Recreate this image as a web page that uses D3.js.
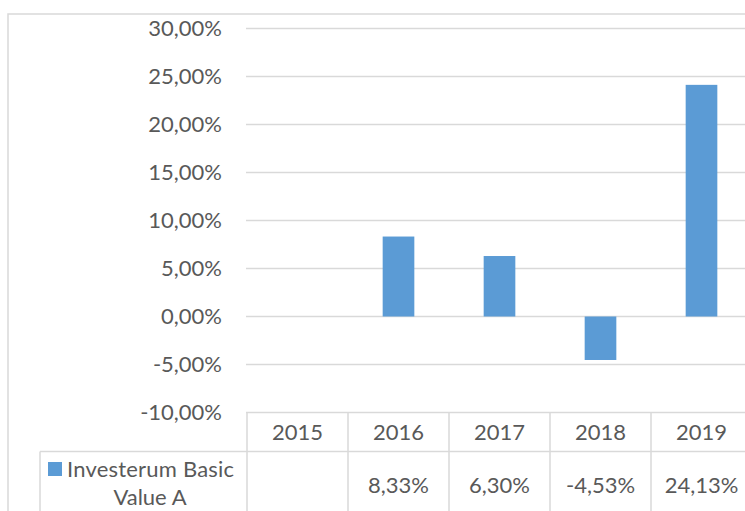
<!DOCTYPE html>
<html lang="en">
<head>
	<meta charset="utf-8">
	<title>Investerum Basic Value A</title>
	<script src="https://cdn.jsdelivr.net/npm/d3@7"></script>
	<style>
		body { margin: 0; background: #fff; }
		text { font-family: Lato, "Noto Sans", sans-serif; fill: #595959; }
	</style>
</head>
<body>
	<script>
		// data
		var years = ["2015", "2016", "2017", "2018", "2019"];
		var returns = [null, 8.33, 6.30, -4.53, 24.13];
		var seriesName = ["Investerum Basic", "Value A"];
		var yTicks = [-10, -5, 0, 5, 10, 15, 20, 25, 30];

		var w = 745, h = 511;
		// comma decimals, plain hyphen for negatives
		var fmt = function (v) { return d3.format(".2f")(v).replace(".", ",").replace("\u2212", "-") + "%"; };

		var svg = d3.select("body").append("svg")
			.attr("width", w)
			.attr("height", h);

		// outer chart border
		svg.append("rect")
			.attr("x", 8).attr("y", 14)
			.attr("width", w).attr("height", h)
			.attr("fill", "none")
			.attr("stroke", "#d9d9d9")
			.attr("stroke-width", 1.5);

		var xScale = d3.scaleBand()
			.domain(years)
			.range([247, 752]);

		var yScale = d3.scaleLinear()
			.domain([-10, 30])
			.range([412.5, 28.5]);

		// gridlines
		svg.append("g").selectAll("line")
			.data(yTicks)
			.enter().append("line")
			.attr("x1", 246).attr("x2", w)
			.attr("y1", d => yScale(d)).attr("y2", d => yScale(d))
			.attr("stroke", "#d9d9d9")
			.attr("stroke-width", 1.5);

		// y axis labels
		var yAxis = svg.append("g")
			.attr("transform", "translate(222,0)")
			.call(d3.axisLeft(yScale).tickValues(yTicks).tickSize(0).tickPadding(0).tickFormat(fmt));
		yAxis.select(".domain").remove();
		yAxis.selectAll("text")
			.attr("font-size", "22px")
			.attr("fill", "#595959")
			.attr("font-family", null);

		// bars, excel-style gap width 219%
		var barW = xScale.bandwidth() / 3.19;
		var data = years.map((y, i) => ({ year: y, value: returns[i] }));

		svg.selectAll(".bar")
			.data(data.filter(d => d.value !== null))
			.enter().append("rect")
			.attr("class", "bar")
			.attr("x", d => xScale(d.year) + (xScale.bandwidth() - barW) / 2)
			.attr("y", d => yScale(Math.max(0, d.value)))
			.attr("width", barW)
			.attr("height", d => Math.abs(yScale(d.value) - yScale(0)))
			.attr("fill", "#5b9bd5");

		// data table
		var rowTop = yScale(-10), rowMid = 451.5;
		var table = svg.append("g")
			.attr("stroke", "#d9d9d9")
			.attr("stroke-width", 1.5);

		table.append("line")
			.attr("x1", 40).attr("x2", w)
			.attr("y1", rowMid).attr("y2", rowMid);
		table.append("line")
			.attr("x1", 40).attr("x2", 40)
			.attr("y1", rowMid).attr("y2", h);
		table.selectAll(".col")
			.data(years)
			.enter().append("line")
			.attr("class", "col")
			.attr("x1", d => xScale(d)).attr("x2", d => xScale(d))
			.attr("y1", rowTop).attr("y2", h);

		svg.selectAll(".year")
			.data(years)
			.enter().append("text")
			.attr("class", "year")
			.attr("x", d => xScale(d) + xScale.bandwidth() / 2)
			.attr("y", (rowTop + rowMid) / 2)
			.attr("dy", "0.35em")
			.attr("text-anchor", "middle")
			.attr("font-size", "22px")
			.text(d => d);

		svg.selectAll(".val")
			.data(data.filter(d => d.value !== null))
			.enter().append("text")
			.attr("class", "val")
			.attr("x", d => xScale(d.year) + xScale.bandwidth() / 2)
			.attr("y", 485)
			.attr("dy", "0.35em")
			.attr("text-anchor", "middle")
			.attr("font-size", "22px")
			.text(d => fmt(d.value));

		// legend key inside the table
		svg.append("rect")
			.attr("x", 48).attr("y", 462)
			.attr("width", 14).attr("height", 14)
			.attr("fill", "#5b9bd5");

		svg.append("text")
			.attr("x", 67).attr("y", 469)
			.attr("dy", "0.35em")
			.attr("font-size", "22px")
			.attr("textLength", 167)
			.text(seriesName[0]);

		svg.append("text")
			.attr("x", 150).attr("y", 497)
			.attr("dy", "0.35em")
			.attr("text-anchor", "middle")
			.attr("font-size", "22px")
			.text(seriesName[1]);
	</script>
</body>
</html>
